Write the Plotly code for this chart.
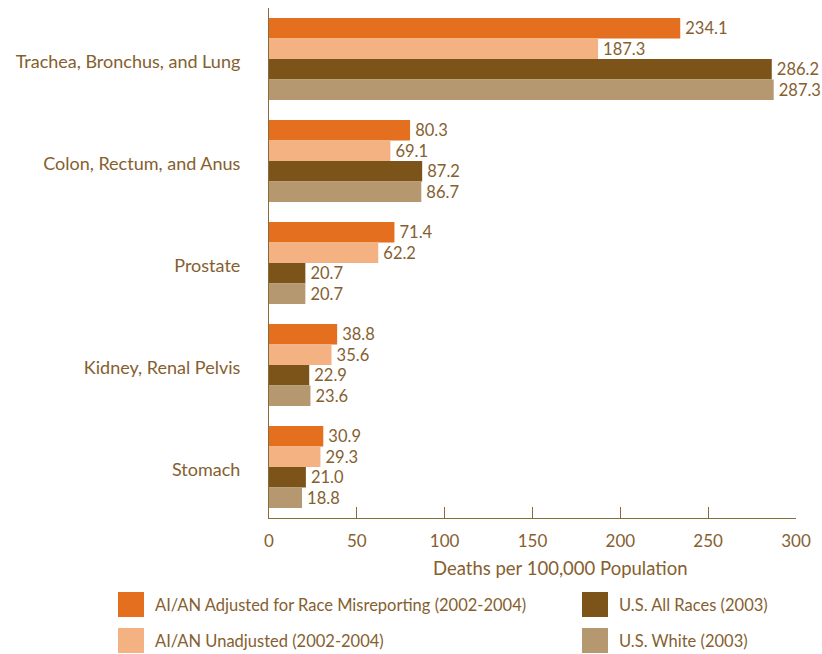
import plotly.graph_objects as go

# Cancer sites (top to bottom)
sites = [
    "Trachea, Bronchus, and Lung",
    "Colon, Rectum, and Anus",
    "Prostate",
    "Kidney, Renal Pelvis",
    "Stomach",
]

series_names = [
    "AI/AN Adjusted for Race Misreporting (2002-2004)",
    "AI/AN Unadjusted (2002-2004)",
    "U.S. All Races (2003)",
    "U.S. White (2003)",
]

aian_adjusted = [234.1, 80.3, 71.4, 38.8, 30.9]
aian_unadjusted = [187.3, 69.1, 62.2, 35.6, 29.3]
us_all_races = [286.2, 87.2, 20.7, 22.9, 21.0]
us_white = [287.3, 86.7, 20.7, 23.6, 18.8]

x_ticks = [0, 50, 100, 150, 200, 250, 300]
x_title = "Deaths per 100,000 Population"

series_values = [aian_adjusted, aian_unadjusted, us_all_races, us_white]
colors = ["#E46F1F", "#F4B283", "#7C541A", "#B59870"]
TEXT = "#85602F"
AXIS = "#8B6A3A"
FONT = "Lato"

W, H = 822, 654
L, R, T, B = 269, 26, 8, 136
PW, PH = W - L - R, H - T - B


def px_x(x):
    return (x - L) / PW


def px_y(y):
    return (H - B - y) / PH


fig = go.Figure()
for name, vals, col in zip(series_names, series_values, colors):
    fig.add_trace(go.Bar(
        y=sites, x=vals, name=name, orientation="h",
        marker=dict(color=col, line=dict(width=0)),
        text=[f"\u2009{v:.1f}" for v in vals],
        textposition="outside", constraintext="none", cliponaxis=False,
        textfont=dict(family=FONT, size=16.5, color=TEXT),
        showlegend=False,
    ))

# Legend drawn as swatches with labels in two columns
legend_pos = [(118, 592), (118, 628), (582, 592), (582, 628)]
for name, col, (lx, ly) in zip(series_names, colors, legend_pos):
    fig.add_shape(type="rect", xref="paper", yref="paper",
                  x0=px_x(lx), x1=px_x(lx + 26), y0=px_y(ly), y1=px_y(ly + 25),
                  fillcolor=col, line=dict(width=0))
    fig.add_annotation(xref="paper", yref="paper", x=px_x(lx + 35), y=px_y(ly + 12.5),
                       text=name, showarrow=False, xanchor="left", yanchor="middle",
                       font=dict(family=FONT, size=16.5, color=TEXT))

fig.add_annotation(xref="paper", yref="paper", x=px_x(560), y=px_y(568),
                   text=x_title, showarrow=False, xanchor="center", yanchor="middle",
                   font=dict(family=FONT, size=18.5, color=TEXT))

fig.update_layout(
    width=W, height=H,
    margin=dict(l=L, r=R, t=T, b=B, pad=0),
    paper_bgcolor="white", plot_bgcolor="white",
    barmode="group", bargap=0.196, bargroupgap=0,
    font=dict(family=FONT, color=TEXT),
    xaxis=dict(
        range=[0, 300], tickvals=x_ticks, ticks="inside", ticklen=11,
        tickcolor=AXIS, tickwidth=1.2, showline=True, linecolor=AXIS,
        linewidth=1.2, showgrid=False, zeroline=False,
        tickfont=dict(family=FONT, size=17, color=TEXT), ticklabelstandoff=7,
    ),
    yaxis=dict(
        autorange="reversed", showline=True, linecolor=AXIS, linewidth=1.2,
        showgrid=False, zeroline=False, ticks="",
        tickfont=dict(family=FONT, size=18, color=TEXT), ticklabelstandoff=24,
        ticklabelshift=-3,
    ),
)

fig.write_html("out.html")
